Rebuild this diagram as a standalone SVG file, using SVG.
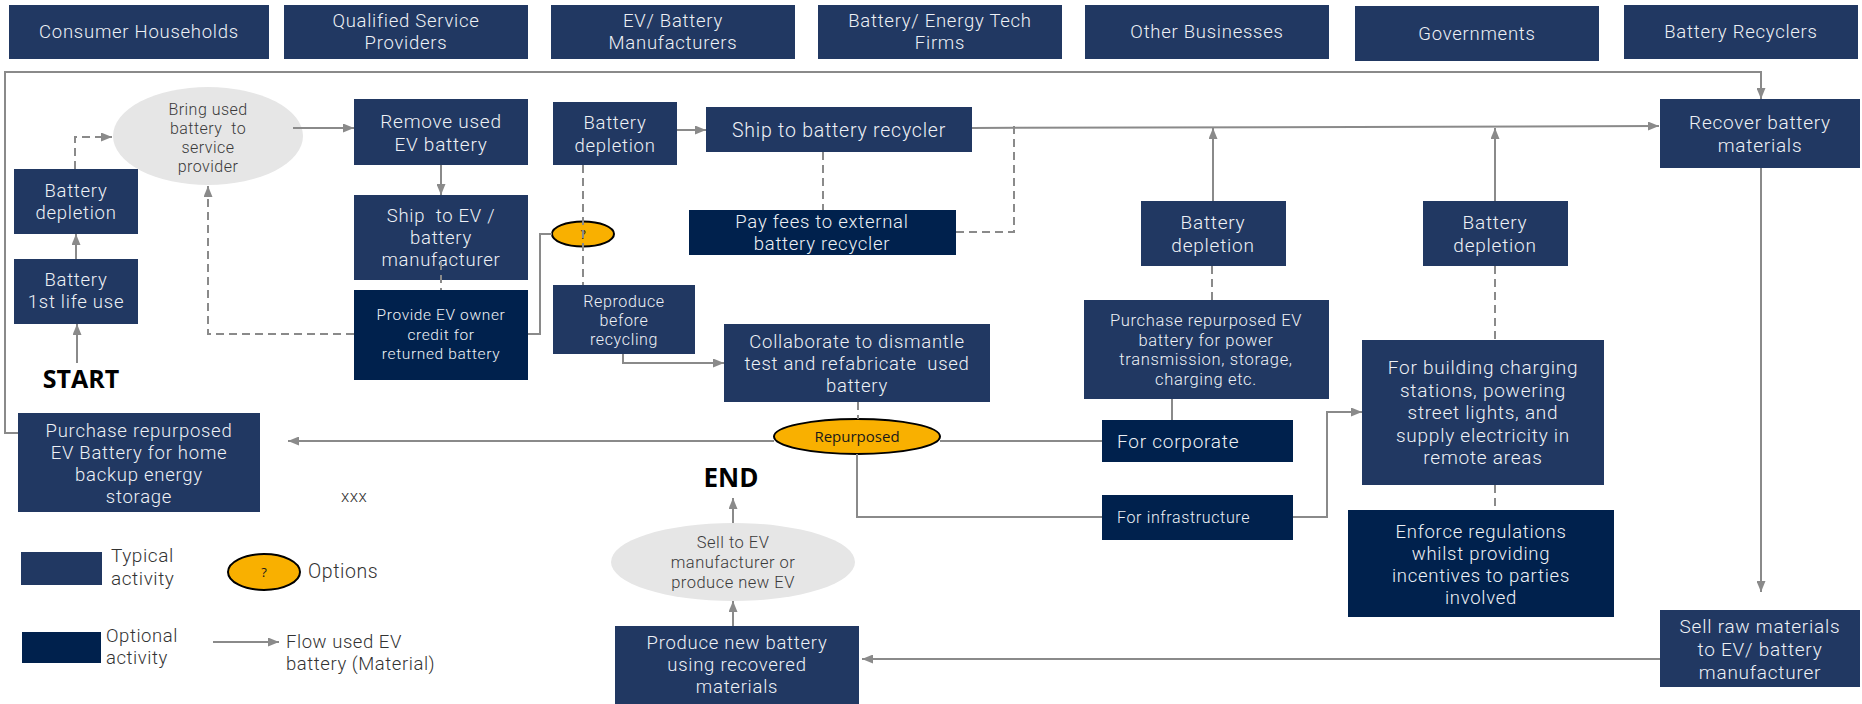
<svg xmlns="http://www.w3.org/2000/svg" width="1862" height="704" viewBox="0 0 1862 704">
  <defs>
    <marker id="arr" markerUnits="userSpaceOnUse" markerWidth="11" markerHeight="9" refX="11" refY="4.5" orient="auto">
      <path d="M0,0 L11,4.5 L0,9 z" fill="#8a8a8a"/>
    </marker>
    <style>
      .typ { fill: #213862; }
      .opt { fill: #00214d; }
      .bub { fill: #e6e6e6; }
      .opn { fill: #f9b000; stroke: #000; stroke-width: 2; }
      .t { font-family: Roboto, "Liberation Sans", sans-serif; font-weight: 300; letter-spacing: 0.04em; fill: #eef1f6; text-anchor: middle; white-space: pre; }
      .ts { text-anchor: start; }
      .d { font-family: Roboto, "Liberation Sans", sans-serif; font-weight: 300; letter-spacing: 0.03em; fill: #3a3a3a; text-anchor: middle; white-space: pre; }
      .k { font-family: "Open Sans", "Liberation Sans", sans-serif; font-weight: 700; fill: #000; text-anchor: middle; }
      .q { font-family: "Open Sans", "Liberation Sans", sans-serif; font-weight: 400; fill: #1a1a1a; text-anchor: middle; }
      .lg { font-family: Roboto, "Liberation Sans", sans-serif; font-weight: 300; letter-spacing: 0.03em; fill: #333; }
      .ln { fill: none; stroke: #8a8a8a; stroke-width: 2; }
      .ds { fill: none; stroke: #8a8a8a; stroke-width: 2; stroke-dasharray: 8 5; }
      .ar { marker-end: url(#arr); }
    </style>
  </defs>
  <rect width="1862" height="704" fill="#ffffff"/>

  <!-- stakeholder header row -->
  <g id="hdr-consumers"><rect class="typ" x="9" y="5" width="260" height="54"/><text class="t" x="139" y="38" font-size="18.5">Consumer Households</text></g>
  <g id="hdr-providers"><rect class="typ" x="284" y="5" width="244" height="54"/><text class="t" font-size="18.5"><tspan x="406" y="27">Qualified Service</tspan><tspan x="406" y="49">Providers</tspan></text></g>
  <g id="hdr-manufacturers"><rect class="typ" x="551" y="5" width="244" height="54"/><text class="t" font-size="18.5"><tspan x="673" y="27">EV/ Battery</tspan><tspan x="673" y="49">Manufacturers</tspan></text></g>
  <g id="hdr-techfirms"><rect class="typ" x="818" y="5" width="244" height="54"/><text class="t" font-size="18.5"><tspan x="940" y="27">Battery/ Energy Tech</tspan><tspan x="940" y="49">Firms</tspan></text></g>
  <g id="hdr-business"><rect class="typ" x="1085" y="5" width="244" height="54"/><text class="t" x="1207" y="38" font-size="18.5">Other Businesses</text></g>
  <g id="hdr-governments"><rect class="typ" x="1355" y="6" width="244" height="55"/><text class="t" x="1477" y="40" font-size="18.5">Governments</text></g>
  <g id="hdr-recyclers"><rect class="typ" x="1624" y="5" width="234" height="54"/><text class="t" x="1741" y="38" font-size="18.5">Battery Recyclers</text></g>

  <!-- consumer household lane -->
  <g id="n-depletion-1"><rect class="typ" x="14" y="169" width="124" height="65"/><text class="t" font-size="18.5"><tspan x="76" y="197">Battery</tspan><tspan x="76" y="219">depletion</tspan></text></g>
  <g id="n-first-life"><rect class="typ" x="14" y="259" width="124" height="65"/><text class="t" font-size="18.5"><tspan x="76" y="286">Battery</tspan><tspan x="76" y="308">1st life use</tspan></text></g>
  <g id="n-start"><text class="k" x="81" y="388" font-size="25">START</text></g>
  <g id="n-home-storage"><rect class="typ" x="18" y="413" width="242" height="99"/><text class="t" font-size="18.5"><tspan x="139" y="437">Purchase repurposed</tspan><tspan x="139" y="459">EV Battery for home</tspan><tspan x="139" y="481">backup energy</tspan><tspan x="139" y="503">storage</tspan></text></g>
  <g id="n-xxx"><text class="lg" x="341" y="502" font-size="17">xxx</text></g>

  <!-- service provider lane -->
  <g id="n-bring"><ellipse class="bub" cx="208" cy="136" rx="95" ry="49"/><text class="d" font-size="16"><tspan x="208" y="115">Bring used</tspan><tspan x="208" y="134">battery  to</tspan><tspan x="208" y="153">service</tspan><tspan x="208" y="172">provider</tspan></text></g>
  <g id="n-remove"><rect class="typ" x="354" y="99" width="174" height="66"/><text class="t" font-size="19"><tspan x="441" y="128">Remove used</tspan><tspan x="441" y="151">EV battery</tspan></text></g>
  <g id="n-ship-mfr"><rect class="typ" x="354" y="195" width="174" height="85"/><text class="t" font-size="18.5"><tspan x="441" y="222">Ship  to EV /</tspan><tspan x="441" y="244">battery</tspan><tspan x="441" y="266">manufacturer</tspan></text></g>
  <g id="n-credit"><rect class="opt" x="354" y="290" width="174" height="90"/><text class="t" font-size="15.5"><tspan x="441" y="320">Provide EV owner</tspan><tspan x="441" y="339.5">credit for</tspan><tspan x="441" y="359">returned battery</tspan></text></g>

  <!-- manufacturer lane -->
  <g id="n-depletion-2"><rect class="typ" x="553" y="102" width="124" height="63"/><text class="t" font-size="18.5"><tspan x="615" y="129">Battery</tspan><tspan x="615" y="152">depletion</tspan></text></g>
  <g id="n-option"><ellipse class="opn" cx="583" cy="234" rx="31" ry="12.5"/><text class="q" x="583" y="239" font-size="12">?</text></g>
  <g id="n-reproduce"><rect class="typ" x="553" y="285" width="142" height="69"/><text class="t" font-size="16"><tspan x="624" y="307">Reproduce</tspan><tspan x="624" y="326">before</tspan><tspan x="624" y="345">recycling</tspan></text></g>
  <g id="n-ship-recycler"><rect class="typ" x="706" y="107" width="266" height="45"/><text class="t" x="839" y="137" font-size="19.5">Ship to battery recycler</text></g>
  <g id="n-fees"><rect class="opt" x="689" y="210" width="267" height="45"/><text class="t" font-size="18.5"><tspan x="822" y="228">Pay fees to external</tspan><tspan x="822" y="250">battery recycler</tspan></text></g>
  <g id="n-collaborate"><rect class="typ" x="724" y="324" width="266" height="78"/><text class="t" font-size="18.5"><tspan x="857" y="348">Collaborate to dismantle</tspan><tspan x="857" y="370">test and refabricate  used</tspan><tspan x="857" y="392">battery</tspan></text></g>
  <g id="n-repurposed"><ellipse class="opn" cx="857" cy="436.5" rx="83" ry="17.5"/><text class="q" x="857" y="442" font-size="15">Repurposed</text></g>
  <g id="n-end"><text class="k" x="731" y="487" font-size="26">END</text></g>
  <g id="n-sell-ev"><ellipse class="bub" cx="733" cy="562" rx="122" ry="39"/><text class="d" font-size="16.5"><tspan x="733" y="548">Sell to EV</tspan><tspan x="733" y="568">manufacturer or</tspan><tspan x="733" y="588">produce new EV</tspan></text></g>
  <g id="n-produce"><rect class="typ" x="615" y="626" width="244" height="78"/><text class="t" font-size="18.5"><tspan x="737" y="649">Produce new battery</tspan><tspan x="737" y="671">using recovered</tspan><tspan x="737" y="693">materials</tspan></text></g>

  <!-- other businesses lane -->
  <g id="n-depletion-3"><rect class="typ" x="1141" y="201" width="145" height="65"/><text class="t" font-size="19"><tspan x="1213" y="229">Battery</tspan><tspan x="1213" y="252">depletion</tspan></text></g>
  <g id="n-power"><rect class="typ" x="1084" y="300" width="245" height="99"/><text class="t" font-size="16.5"><tspan x="1206" y="326">Purchase repurposed EV</tspan><tspan x="1206" y="345.5">battery for power</tspan><tspan x="1206" y="365">transmission, storage,</tspan><tspan x="1206" y="384.5">charging etc.</tspan></text></g>
  <g id="n-corporate"><rect class="opt" x="1102" y="420" width="191" height="42"/><text class="t ts" x="1117" y="448" font-size="19">For corporate</text></g>
  <g id="n-infrastructure"><rect class="opt" x="1102" y="495" width="191" height="45"/><text class="t ts" x="1117" y="523" font-size="16">For infrastructure</text></g>

  <!-- government lane -->
  <g id="n-depletion-4"><rect class="typ" x="1423" y="201" width="145" height="65"/><text class="t" font-size="19"><tspan x="1495" y="229">Battery</tspan><tspan x="1495" y="252">depletion</tspan></text></g>
  <g id="n-charging"><rect class="typ" x="1362" y="340" width="242" height="145"/><text class="t" font-size="19"><tspan x="1483" y="374">For building charging</tspan><tspan x="1483" y="396.5">stations, powering</tspan><tspan x="1483" y="419">street lights, and</tspan><tspan x="1483" y="441.5">supply electricity in</tspan><tspan x="1483" y="464">remote areas</tspan></text></g>
  <g id="n-regulations"><rect class="opt" x="1348" y="510" width="266" height="107"/><text class="t" font-size="18.5"><tspan x="1481" y="538">Enforce regulations</tspan><tspan x="1481" y="560">whilst providing</tspan><tspan x="1481" y="582">incentives to parties</tspan><tspan x="1481" y="604">involved</tspan></text></g>

  <!-- recycler lane -->
  <g id="n-recover"><rect class="typ" x="1660" y="99" width="200" height="69"/><text class="t" font-size="19"><tspan x="1760" y="129">Recover battery</tspan><tspan x="1760" y="152">materials</tspan></text></g>
  <g id="n-sell-raw"><rect class="typ" x="1660" y="610" width="200" height="77"/><text class="t" font-size="19"><tspan x="1760" y="633">Sell raw materials</tspan><tspan x="1760" y="656">to EV/ battery</tspan><tspan x="1760" y="679">manufacturer</tspan></text></g>

  <!-- legend -->
  <g id="legend">
    <rect class="typ" x="21" y="552" width="81" height="33"/>
    <text class="lg" font-size="19"><tspan x="111" y="562">Typical</tspan><tspan x="111" y="585">activity</tspan></text>
    <ellipse class="opn" cx="264" cy="572" rx="36" ry="18"/>
    <text class="q" x="264" y="577" font-size="13">?</text>
    <text class="lg" x="308" y="578" font-size="19.5">Options</text>
    <rect class="opt" x="22" y="632" width="79" height="31"/>
    <text class="lg" font-size="18.5"><tspan x="106" y="642">Optional</tspan><tspan x="106" y="664">activity</tspan></text>
    <path class="ln ar" d="M213,642 H279"/>
    <text class="lg" font-size="18.5"><tspan x="286" y="648">Flow used EV</tspan><tspan x="286" y="670">battery (Material)</tspan></text>
  </g>

  <!-- connectors -->
  <g id="connectors">
    <path class="ln ar" d="M18,433 H5 V72 H1761 V99"/>
    <path class="ln ar" d="M76,259 V234"/>
    <path class="ln ar" d="M77,363 V324"/>
    <path class="ds ar" d="M75,169 V137 H112"/>
    <path class="ln ar" d="M293,128 H354"/>
    <path class="ln ar" d="M441,165 V195"/>
    <path class="ds" d="M441,262 V290"/>
    <path class="ds ar" d="M354,334 H208 V186"/>
    <path class="ln" d="M528,334 H540 V234 H552"/>
    <path class="ds" d="M583,165 V285"/>
    <path class="ln ar" d="M677,130 H706"/>
    <path class="ln ar" d="M972,128 L1659,126"/>
    <path class="ds" d="M823,152 V210"/>
    <path class="ds" d="M956,232 H1014 V121"/>
    <path class="ln ar" d="M623,354 V363 H724"/>
    <path class="ds" d="M858,402 V419"/>
    <path class="ln ar" d="M774,441 H288"/>
    <path class="ln" d="M940,441 H1102"/>
    <path class="ln" d="M857,454 V517 H1102"/>
    <path class="ln" d="M1172,399 V420"/>
    <path class="ln ar" d="M1293,517 H1327 V412 H1362"/>
    <path class="ln ar" d="M1213,201 V128"/>
    <path class="ds" d="M1212,266 V300"/>
    <path class="ln ar" d="M1495,201 V128"/>
    <path class="ds" d="M1495,266 V340"/>
    <path class="ds" d="M1495,485 V510"/>
    <path class="ln ar" d="M1761,168 V592"/>
    <path class="ln ar" d="M1660,659 H862"/>
    <path class="ln ar" d="M733,626 V601"/>
    <path class="ln ar" d="M733,523 V498"/>
  </g>
</svg>
